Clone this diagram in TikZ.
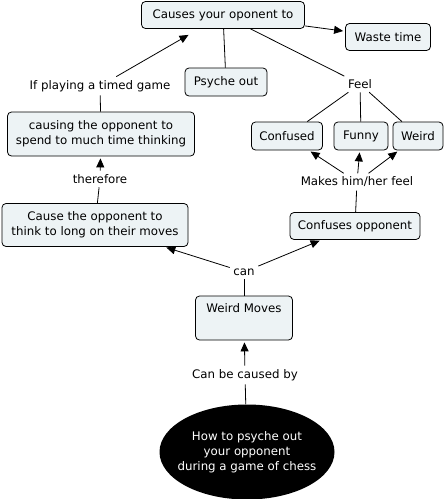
\documentclass[tikz,border=0pt]{standalone}
\usepackage{fontspec}
\setmainfont{DejaVu Sans}
\usetikzlibrary{arrows.meta,shapes.geometric}
\definecolor{CmapFill}{HTML}{EDF3F5}

\begin{document}
\begin{tikzpicture}[x=1pt,y=-1pt,>={Triangle[length=9pt,width=8pt]},
  every node/.style={font=\fontsize{11.8}{15}\selectfont},
  concept/.style={draw,line width=0.8pt,rounded corners=4pt,fill=CmapFill,align=center,inner xsep=3pt,inner ysep=3pt,minimum height=27pt},
  linkword/.style={inner sep=3.5pt,align=center},
  link/.style={line width=0.8pt},
  linkarrow/.style={link,->,shorten >=2pt}]
  \useasboundingbox (0,0) rectangle (446,499);
  % concepts
  \node[concept,minimum width=163pt] (causes) at (223,15) {Causes your oponent to};
  \node[concept,minimum width=85pt] (waste) at (388,37) {Waste time};
  \node[concept,minimum width=82pt,minimum height=28pt] (psyche) at (226,82) {Psyche out};
  \node[concept,minimum width=187pt,minimum height=44pt] (spend) at (101,134) {causing the opponent to\\spend to much time thinking};
  \node[concept,minimum width=71pt,minimum height=28pt] (confused) at (287,136) {Confused};
  \node[concept,minimum width=54pt,minimum height=28pt] (funny) at (361,136) {Funny};
  \node[concept,minimum width=50pt,minimum height=28pt] (weird) at (418,136) {Weird};
  \node[concept,minimum width=186pt,minimum height=43pt] (longthink) at (95,225) {Cause the opponent to\\think to long on their moves};
  \node[concept,minimum width=130pt] (confuses) at (355,226) {Confuses opponent};
  \node[concept,minimum width=97pt,minimum height=44pt] (moves) at (244,318) {Weird Moves\\\strut};
  \node[ellipse,fill=black,text=white,align=center,minimum width=175pt,minimum height=95pt,inner xsep=-15pt,inner ysep=0pt] (root) at (247,452) {How to psyche out\\your opponent\\during a game of chess};
  % linking words
  \node[linkword] (causedby) at (245,375) {Can be caused by};
  \node[linkword] (can) at (244,272) {can};
  \node[linkword] (therefore) at (100,179) {therefore};
  \node[linkword] (makes) at (357,182) {Makes him/her feel};
  \node[linkword] (timed) at (100,86) {If playing a timed game};
  \node[linkword] (feel) at (360,84) {Feel};
  % connections
  \draw[link] (root) -- (causedby);
  \draw[linkarrow] (causedby) -- (moves);
  \draw[link] (moves) -- (can);
  \draw[linkarrow] (can) -- (longthink);
  \draw[linkarrow] (can) -- (confuses);
  \draw[link] (longthink) -- (therefore);
  \draw[linkarrow] (therefore) -- (spend);
  \draw[link] (spend) -- (timed);
  \draw[linkarrow,shorten >=12pt] (timed) -- (causes);
  \draw[link] (confuses) -- (makes);
  \draw[linkarrow] (makes) -- (confused);
  \draw[linkarrow] (makes) -- (funny);
  \draw[linkarrow] (makes) -- (weird);
  \draw[link] (causes) -- (psyche);
  \draw[link] (causes) -- (feel);
  \draw[link] (feel) -- (confused);
  \draw[link] (feel) -- (funny);
  \draw[link] (feel) -- (weird);
  \draw[linkarrow] (causes) -- (waste);
\end{tikzpicture}
\end{document}
